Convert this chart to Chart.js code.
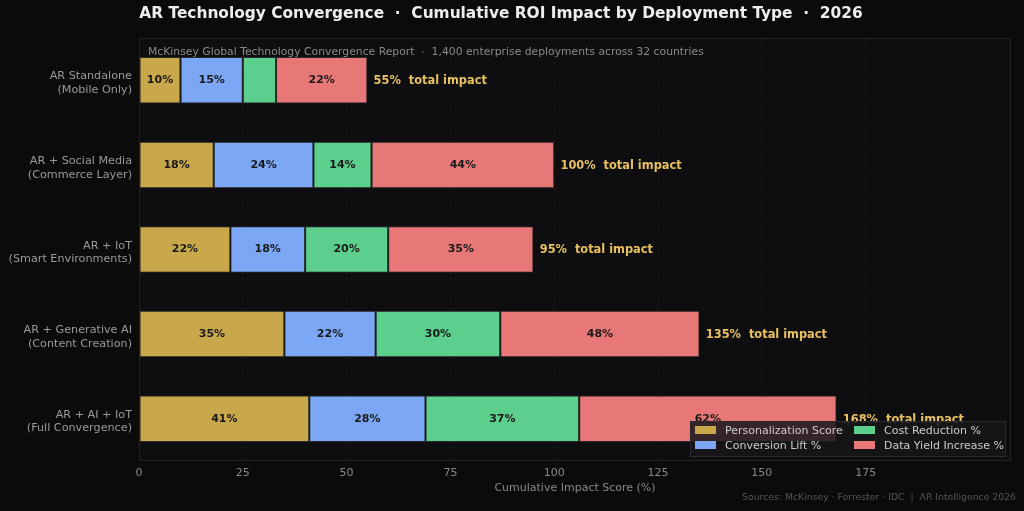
<!DOCTYPE html>
<html>
<head>
<meta charset="utf-8">
<script src="https://cdn.jsdelivr.net/npm/chart.js@4.4.1/dist/chart.umd.min.js"></script>
<style>
  html, body { margin: 0; padding: 0; background: #0b0b0c; }
  canvas { display: block; }
</style>
</head>
<body>
<canvas id="chart" width="1024" height="511"></canvas>
<script>
// ── Data ──────────────────────────────────────────────────────────────────────
const deployments = [
  ['AR Standalone', '(Mobile Only)'],
  ['AR + Social Media', '(Commerce Layer)'],
  ['AR + IoT', '(Smart Environments)'],
  ['AR + Generative AI', '(Content Creation)'],
  ['AR + AI + IoT', '(Full Convergence)'],
];
const personalization = [10, 18, 22, 35, 41];
const conversionLift  = [15, 24, 18, 22, 28];
const costReduction   = [8, 14, 20, 30, 37];
const dataYield       = [22, 44, 35, 48, 62];
const xTicks = [0, 25, 50, 75, 100, 125, 150, 175];

const FONT = "'DejaVu Sans', sans-serif";
const seriesDefs = [
  { label: 'Personalization Score', data: personalization, color: '#c9a84c' },
  { label: 'Conversion Lift %',     data: conversionLift,  color: '#7ba7f5' },
  { label: 'Cost Reduction %',      data: costReduction,   color: '#5ccf8c' },
  { label: 'Data Yield Increase %', data: dataYield,       color: '#e87878' },
];
const totals = deployments.map((_, i) => seriesDefs.reduce((s, d) => s + d.data[i], 0));

// ── Plugins ───────────────────────────────────────────────────────────────────
const decor = {
  id: 'decor',
  beforeDraw(chart) {
    const { ctx, chartArea: a } = chart;
    ctx.save();
    ctx.fillStyle = '#0b0b0c';
    ctx.fillRect(0, 0, chart.width, chart.height);
    ctx.fillStyle = '#0e0e11';
    ctx.fillRect(a.left, a.top, a.right - a.left, a.bottom - a.top);
    ctx.restore();
  },
  afterDatasetsDraw(chart) {
    const { ctx } = chart;
    const x = chart.scales.x;
    ctx.save();
    // segment labels
    ctx.font = `bold 11px ${FONT}`;
    ctx.textAlign = 'center';
    ctx.textBaseline = 'middle';
    ctx.fillStyle = '#1a1a1a';
    chart.data.datasets.forEach((ds, di) => {
      chart.getDatasetMeta(di).data.forEach((bar, i) => {
        if (ds.data[i] < 10) return;
        ctx.fillText(ds.data[i] + '%', (bar.x + bar.base) / 2, bar.y);
      });
    });
    // totals
    ctx.font = `bold 11.4px ${FONT}`;
    ctx.textAlign = 'left';
    ctx.fillStyle = '#e8c060';
    const last = chart.getDatasetMeta(chart.data.datasets.length - 1).data;
    totals.forEach((t, i) => {
      ctx.fillText(t + '%  total impact', x.getPixelForValue(t + 1.5), last[i].y + 1);
    });
    ctx.restore();
  },
  afterDraw(chart) {
    const { ctx, chartArea: a } = chart;
    ctx.save();
    // frame
    ctx.strokeStyle = '#222226';
    ctx.lineWidth = 1;
    ctx.strokeRect(a.left + 0.5, a.top + 0.5, a.right - a.left - 1, a.bottom - a.top - 1);
    // title
    ctx.fillStyle = '#eeeeee';
    ctx.font = `bold 15.4px ${FONT}`;
    ctx.textAlign = 'center';
    ctx.textBaseline = 'middle';
    ctx.fillText('AR Technology Convergence  ·  Cumulative ROI Impact by Deployment Type  ·  2026', 501, 14);
    // subtitle
    ctx.fillStyle = '#8a8a8a';
    ctx.font = `10.8px ${FONT}`;
    ctx.textAlign = 'left';
    ctx.fillText('McKinsey Global Technology Convergence Report  ·  1,400 enterprise deployments across 32 countries', a.left + 9, 52);
    // sources
    ctx.fillStyle = '#555555';
    ctx.font = `9.3px ${FONT}`;
    ctx.textAlign = 'right';
    ctx.fillText('Sources: McKinsey · Forrester · IDC  |  AR Intelligence 2026', 1016, 498);
    // legend
    const lx = 690, ly = 421, lw = 315, lh = 35;
    ctx.fillStyle = 'rgba(22,22,26,0.85)';
    ctx.fillRect(lx, ly, lw, lh);
    ctx.strokeStyle = '#2a2a2e';
    ctx.strokeRect(lx + 0.5, ly + 0.5, lw, lh);
    ctx.font = `11px ${FONT}`;
    ctx.textAlign = 'left';
    const pos = [[lx + 5, ly + 9], [lx + 5, ly + 24], [lx + 164, ly + 9], [lx + 164, ly + 24]];
    seriesDefs.forEach((s, i) => {
      const [px, py] = pos[i];
      ctx.fillStyle = s.color;
      ctx.fillRect(px, py - 4, 21, 8);
      ctx.fillStyle = '#cccccc';
      ctx.fillText(s.label, px + 30, py + 1);
    });
    ctx.restore();
  }
};

// ── Chart ─────────────────────────────────────────────────────────────────────
new Chart(document.getElementById('chart'), {
  type: 'bar',
  data: {
    labels: deployments,
    datasets: seriesDefs.map(s => ({
      label: s.label,
      data: s.data,
      backgroundColor: s.color,
      borderColor: '#2a2a2a',
      borderWidth: 1,
      borderSkipped: false,
      barPercentage: 0.55,
      categoryPercentage: 1,
    })),
  },
  options: {
    indexAxis: 'y',
    responsive: false,
    animation: false,
    layout: { padding: { top: 38, right: 13, bottom: 16, left: 0 } },
    plugins: { legend: { display: false }, tooltip: { enabled: false } },
    scales: {
      x: {
        stacked: true,
        min: 0,
        max: 210,
        afterBuildTicks: axis => { axis.ticks = xTicks.map(v => ({ value: v })); },
        afterFit: axis => { axis.height = 34; },
        grid: { color: '#1f1f23', drawTicks: false, tickLength: 0 },
        border: { display: false, dash: [3, 3] },
        ticks: { color: '#888888', font: { family: FONT, size: 11 }, padding: 6 },
        title: { display: true, text: 'Cumulative Impact Score (%)', color: '#888888', font: { family: FONT, size: 11 }, padding: { top: 0, bottom: 0 } },
      },
      y: {
        stacked: true,
        afterFit: axis => { axis.width = 139; },
        grid: { display: false, drawTicks: false, tickLength: 0 },
        border: { display: false },
        ticks: { color: '#999999', font: { family: FONT, size: 11.2 }, padding: 7, labelOffset: 3 },
      },
    },
  },
  plugins: [decor],
});
</script>
</body>
</html>
